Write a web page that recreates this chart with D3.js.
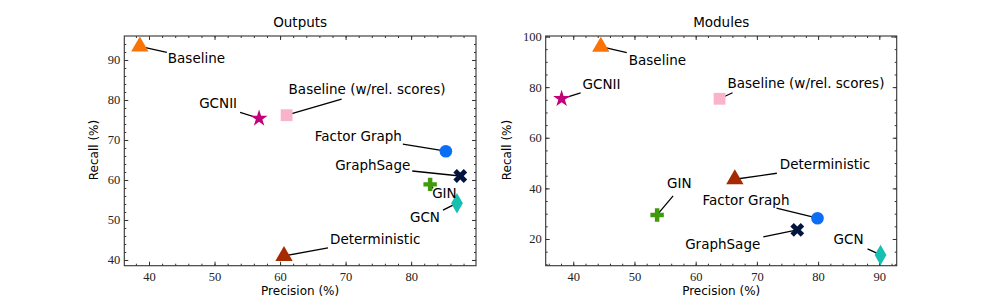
<!DOCTYPE html>
<html>
<head>
<meta charset="utf-8">
<script src="https://cdn.jsdelivr.net/npm/d3@7"></script>
<style>
  body { margin: 0; background: #fff; }
  svg { display: block; }
  .tick text { font-family: "Liberation Serif", serif; font-size: 12.5px; fill: #222; }
  .tick line { stroke: #333; }
  .domain { stroke: none; }
</style>
</head>
<body>
<svg width="997" height="299"></svg>
<script>
const svg = d3.select("svg");

// data
const methods = ["Baseline", "Baseline (w/rel. scores)", "GCNII", "Factor Graph",
                 "GraphSage", "GIN", "GCN", "Deterministic"];
const outPrecision = [38.6, 61.0, 56.8, 85.3, 87.5, 82.9, 87.0, 60.6];
const outRecall    = [93.4, 76.2, 75.4, 67.2, 61.0, 58.9, 54.2, 41.0];
const modPrecision = [44.5, 63.9, 38.1, 79.9, 76.6, 53.7, 90.2, 66.4];
const modRecall    = [96.0, 75.4, 75.4, 28.2, 23.6, 29.5, 13.7, 43.6];

const outXTicks = [40, 50, 60, 70, 80];
const outYTicks = [40, 50, 60, 70, 80, 90];
const modXTicks = [40, 50, 60, 70, 80, 90];
const modYTicks = [20, 40, 60, 80, 100];

// marker look per method
const colors = ["#f97306", "#f9b4cc", "#c20078", "#0a6ff5", "#01153e", "#3f9b0b", "#17bfb0", "#a52a00"];
const shapes = [d3.symbolTriangle, d3.symbolSquare, d3.symbolStar, d3.symbolCircle,
                d3.symbolCross, d3.symbolCross, d3.symbolDiamond, d3.symbolTriangle];
const sizes  = [130, 140, 90, 125, 120, 100, 120, 130];
const rotate = [0, 0, 0, 0, 45, 0, 0, 0];

// label placement: [text dx, text dy, anchor, line dx, line dy] relative to marker
const outLabels = [
  [28, 12, "start", 27, 6],
  [2, -26, "start", 55, -16],
  [-22, -15, "end", -19, -6],
  [-44, -15, "end", -43, -7],
  [-50, -11, "end", -48, -5],
  [2, 9, "start", 3, 4],
  [-17, 14, "end", -14, 7],
  [46, -17, "start", 44, -8]
];
const modLabels = [
  [28, 13, "start", 26, 6],
  [8, -16, "start", 13, -6],
  [21, -15, "start", 19, -6],
  [-28, -18, "end", -41, -10],
  [-37, 14, "end", -34, 7],
  [10, -32, "start", 16, -19],
  [-17, -16, "end", -13, -6],
  [45, -15, "start", 42, -6]
];

function panel(opt) {
  const x = d3.scaleLinear().domain(opt.xDom).range([opt.left, opt.right]);
  const y = d3.scaleLinear().domain(opt.yDom).range([265.7, 36]);
  const g = svg.append("g");

  const xMinor = d3.range(Math.ceil(opt.xDom[0] / opt.xMin) * opt.xMin, opt.xDom[1], opt.xMin);
  const yMinor = d3.range(Math.ceil(opt.yDom[0] / opt.yMin) * opt.yMin, opt.yDom[1], opt.yMin);

  // minor ticks all sides
  g.append("g").attr("transform", `translate(0,${y.range()[0]})`)
    .call(d3.axisBottom(x).tickValues(xMinor).tickSize(-2).tickFormat(""));
  g.append("g").attr("transform", `translate(0,${y.range()[1]})`)
    .call(d3.axisTop(x).tickValues(xMinor).tickSize(-2).tickFormat(""));
  g.append("g").attr("transform", `translate(${opt.left},0)`)
    .call(d3.axisLeft(y).tickValues(yMinor).tickSize(-2).tickFormat(""));
  g.append("g").attr("transform", `translate(${opt.right},0)`)
    .call(d3.axisRight(y).tickValues(yMinor).tickSize(-2).tickFormat(""));

  // major ticks
  g.append("g").attr("transform", `translate(0,${y.range()[0]})`)
    .call(d3.axisBottom(x).tickValues(opt.xTicks).tickSize(-4).tickPadding(6));
  g.append("g").attr("transform", `translate(0,${y.range()[1]})`)
    .call(d3.axisTop(x).tickValues(opt.xTicks).tickSize(-4).tickFormat(""));
  g.append("g").attr("transform", `translate(${opt.left},0)`)
    .call(d3.axisLeft(y).tickValues(opt.yTicks).tickSize(-4).tickPadding(4));
  g.append("g").attr("transform", `translate(${opt.right},0)`)
    .call(d3.axisRight(y).tickValues(opt.yTicks).tickSize(-4).tickFormat(""));

  g.append("rect")
    .attr("x", opt.left).attr("y", 36)
    .attr("width", opt.right - opt.left).attr("height", 265.7 - 36)
    .attr("fill", "none").attr("stroke", "#333").attr("stroke-width", 1.1);

  // title and axis labels
  g.append("text")
    .attr("x", (opt.left + opt.right) / 2).attr("y", 27)
    .attr("text-anchor", "middle")
    .style("font-family", "DejaVu Sans").style("font-size", "13.5px")
    .text(opt.title);
  g.append("text")
    .attr("x", (opt.left + opt.right) / 2).attr("y", 295)
    .attr("text-anchor", "middle")
    .style("font-family", "DejaVu Sans").style("font-size", "12px")
    .text("Precision (%)");
  g.append("text")
    .attr("transform", `translate(${opt.ylabX},150) rotate(-90)`)
    .attr("text-anchor", "middle").attr("dy", "0.35em")
    .style("font-family", "DejaVu Sans").style("font-size", "12px")
    .text("Recall (%)");

  const pts = methods.map((m, i) => ({ m, i, px: x(opt.xs[i]), py: y(opt.ys[i]), lab: opt.labels[i] }));

  g.selectAll(".lead")
    .data(pts)
    .join("line")
      .attr("x1", d => d.px).attr("y1", d => d.py)
      .attr("x2", d => d.px + d.lab[3]).attr("y2", d => d.py + d.lab[4])
      .attr("stroke", "#000").attr("stroke-width", 1.3);

  g.selectAll(".mark")
    .data(pts)
    .join("path")
      .attr("transform", d => `translate(${d.px},${d.py}) rotate(${rotate[d.i]})`)
      .attr("d", d => d3.symbol().type(shapes[d.i]).size(sizes[d.i])())
      .attr("fill", d => colors[d.i]);

  g.selectAll(".lbl")
    .data(pts)
    .join("text")
      .attr("x", d => d.px + d.lab[0]).attr("y", d => d.py + d.lab[1] + 5)
      .attr("text-anchor", d => d.lab[2])
      .style("font-family", "DejaVu Sans").style("font-size", "13.5px")
      .text(d => d.m);
}

panel({
  title: "Outputs", left: 124.3, right: 476, ylabX: 94,
  xDom: [36.23, 89.9], yDom: [38.57, 96], xMin: 2, yMin: 2,
  xTicks: outXTicks, yTicks: outYTicks,
  xs: outPrecision, ys: outRecall, labels: outLabels
});

panel({
  title: "Modules", left: 545.7, right: 896.7, ylabX: 507,
  xDom: [35.5, 92.84], yDom: [9.45, 100.2], xMin: 2, yMin: 5,
  xTicks: modXTicks, yTicks: modYTicks,
  xs: modPrecision, ys: modRecall, labels: modLabels
});
</script>
</body>
</html>
